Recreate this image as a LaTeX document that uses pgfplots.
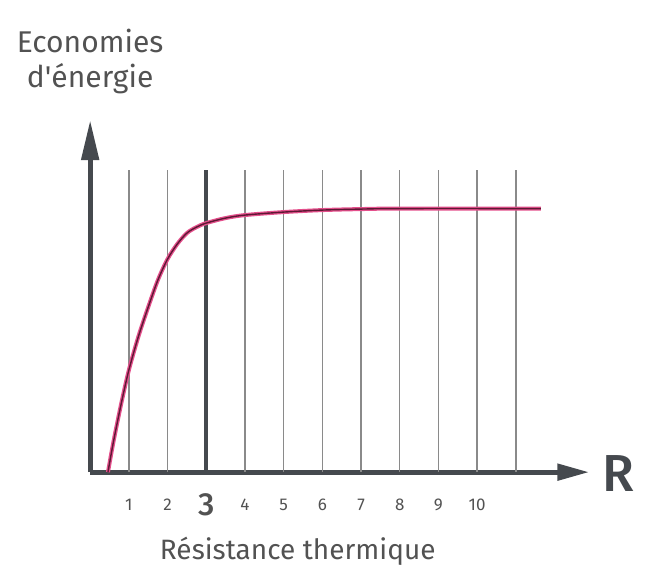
\documentclass[border=0pt]{standalone}
\usepackage{pgfplots}
\pgfplotsset{compat=1.18}
\usepackage{fontspec}
\setmainfont{Fira Sans}
\newfontfamily\medfont{Fira Sans Medium}
\usetikzlibrary{arrows.meta}

\definecolor{axisgray}{HTML}{45494E}
\definecolor{gridgray}{HTML}{8A8A8A}
\definecolor{txtgray}{HTML}{525252}
\definecolor{curvepink}{HTML}{E4508C}
\definecolor{curvedark}{HTML}{5E1834}

\begin{document}
\begin{tikzpicture}
\begin{axis}[
  scale only axis,
  width=249.5pt, height=176pt,
  xmin=0, xmax=12.9, ymin=0, ymax=352,
  enlargelimits=false,
  axis lines=left,
  axis line style={line width=2.5pt, color=axisgray},
  x axis line style={-{Triangle[length=16pt,width=8pt]}},
  y axis line style={-{Triangle[length=20pt,width=8.5pt]}},
  major tick length=0pt,
  ytick=\empty,
  xtick={1,2,3,4,5,6,7,8,9,10},
  xticklabels={1,2,{\medfont\fontsize{16}{16}\selectfont 3},4,5,6,7,8,9,10},
  x tick label style={font=\fontsize{8.5}{8.5}\selectfont, text=txtgray, anchor=center, yshift=-16.5pt},
  xlabel={Résistance thermique},
  xlabel style={at={(axis description cs:0.416,-0.224)}, anchor=center, font=\fontsize{14}{14}\selectfont, text=txtgray},
  ylabel={Economies\\d\textquotesingle énergie},
  ylabel style={at={(axis description cs:0,1.165)}, rotate=-90, anchor=center, align=center, font=\fontsize{15}{17.5}\selectfont, text=txtgray},
  clip=false,
]
% vertical guide lines
\addplot[ycomb, no marks, gridgray, line width=0.7pt] coordinates {
  (1,302) (2,302) (4,302) (5,302) (6,302) (7,302) (8,302) (9,302) (10,302) (11,302)};
\addplot[ycomb, no marks, axisgray, line width=2pt] coordinates {(3,302)};
% curve
\addplot[smooth, no marks, curvepink, line width=2pt] coordinates {
  (0.46,0) (0.6,30) (0.8,68) (1,102) (1.25,136) (1.5,165) (1.75,192) (2,213)
  (2.25,228) (2.5,239) (2.75,245) (3,249) (3.5,254) (4,257) (5,260) (6,262)
  (7,263) (8,263.5) (11.65,263.5)};
\addplot[smooth, no marks, curvedark, line width=0.7pt] coordinates {
  (0.46,0) (0.6,30) (0.8,68) (1,102) (1.25,136) (1.5,165) (1.75,192) (2,213)
  (2.25,228) (2.5,239) (2.75,245) (3,249) (3.5,254) (4,257) (5,260) (6,262)
  (7,263) (8,263.5) (11.65,263.5)};
\node[text=axisgray, font=\medfont\fontsize{26}{26}\selectfont] at (axis cs:13.66,-1.5) {R};
\coordinate (bl) at (axis cs:-2.33,-108);
\coordinate (tr) at (axis cs:14.39,472);
\end{axis}
\pgfresetboundingbox
\path[use as bounding box] (bl) rectangle (tr);
\end{tikzpicture}
\end{document}
